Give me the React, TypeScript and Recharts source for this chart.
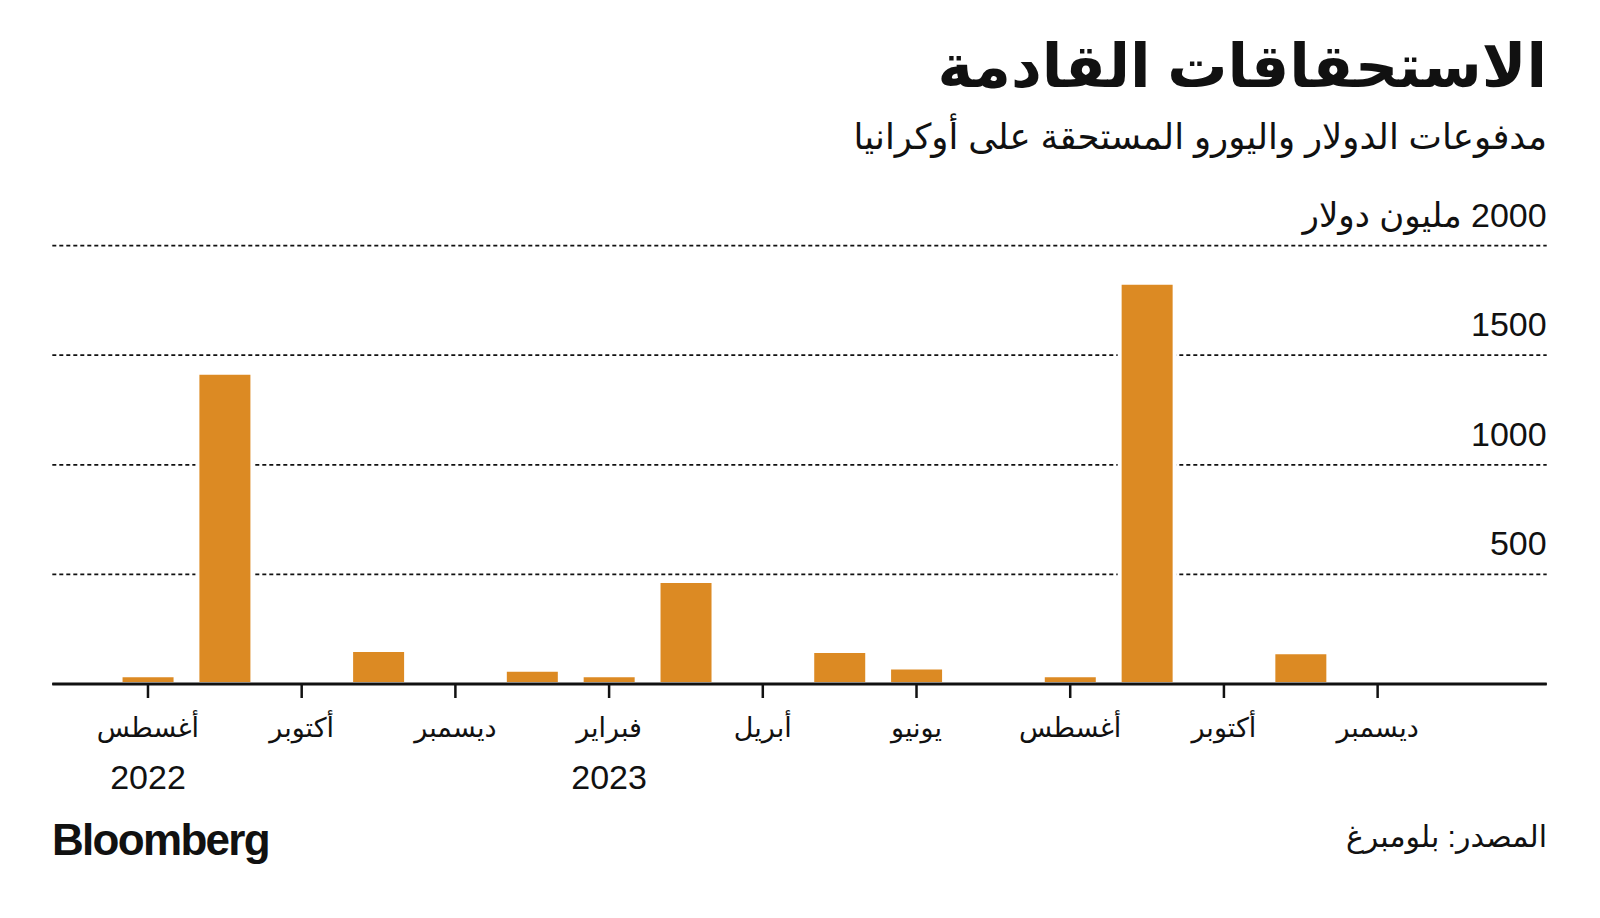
import { BarChart, Bar, XAxis, YAxis, CartesianGrid } from "recharts";

// monthly payments due, million USD (Aug 2022 .. Dec 2023)
const months = [
  "2022-08", "2022-09", "2022-10", "2022-11", "2022-12",
  "2023-01", "2023-02", "2023-03", "2023-04", "2023-05", "2023-06",
  "2023-07", "2023-08", "2023-09", "2023-10", "2023-11", "2023-12",
];
const payments = [40, 1420, 0, 155, 0, 65, 40, 470, 0, 150, 75, 0, 40, 1830, 0, 145, 0];
const monthNames = [
  "أغسطس", "سبتمبر", "أكتوبر", "نوفمبر", "ديسمبر",
  "يناير", "فبراير", "مارس", "أبريل", "مايو", "يونيو",
  "يوليو", "أغسطس", "سبتمبر", "أكتوبر", "نوفمبر", "ديسمبر",
];
const xTicks = [0, 2, 4, 6, 8, 10, 12, 14, 16];
const yearLabels: Record<number, string> = { 0: "2022", 6: "2023" };
const yTicks = [0, 500, 1000, 1500, 2000];
const yUnit = "مليون دولار";
const xDomain = [-1.245, 18.2];

const rows = months.map((m, i) => ({ i, month: m, value: payments[i] }));

const INK = "#111";
const ORANGE = "#DC8A23";
const FONT = "'Liberation Sans', 'DejaVu Sans', sans-serif";

function MonthTick(props: any) {
  const { x, y, payload } = props;
  const i = payload.value;
  return (
    <g>
      <text x={x} y={y + 39} textAnchor="middle" fontSize={27} fill={INK} fontFamily={FONT}>
        {monthNames[i]}
      </text>
      {yearLabels[i] && (
        <text x={x} y={y + 91} textAnchor="middle" fontSize={34} fill={INK} fontFamily={FONT}>
          {yearLabels[i]}
        </text>
      )}
    </g>
  );
}

function ValueTick(props: any) {
  const { x, y, payload } = props;
  if (payload.value === 0) return null;
  const label =
    payload.value === 2000 ? "\u200F" + payload.value + " " + yUnit : String(payload.value);
  return (
    <text x={x} y={y - 19} textAnchor="end" fontSize={34} fill={INK} fontFamily={FONT}>
      {label}
    </text>
  );
}

export default function App() {
  return (
    <div
      style={{
        position: "absolute",
        left: 0,
        top: 0,
        width: 1600,
        height: 918,
        background: "#fff",
        fontFamily: FONT,
        color: INK,
        overflow: "hidden",
      }}
    >
      <div
        dir="rtl"
        style={{ position: "absolute", right: 53, top: 37, fontSize: 60, fontWeight: 700, lineHeight: 1 }}
      >
        الاستحقاقات القادمة
      </div>
      <div dir="rtl" style={{ position: "absolute", right: 53, top: 120, fontSize: 35.5, lineHeight: 1 }}>
        مدفوعات الدولار واليورو المستحقة على أوكرانيا
      </div>

      <div style={{ position: "absolute", left: 0, top: 0 }}>
        <BarChart
          width={1600}
          height={918}
          data={rows}
          margin={{ top: 245.6, right: 52.3, bottom: 233, left: 52.3 }}
        >
          <CartesianGrid vertical={false} stroke={INK} strokeWidth={1.8} strokeDasharray="4 3" />
          <YAxis
            orientation="right"
            width={1}
            domain={[0, 2000]}
            ticks={yTicks}
            axisLine={false}
            tickLine={false}
            tickSize={0}
            tickMargin={0}
            tick={<ValueTick />}
          />
          <Bar dataKey="value" fill={ORANGE} stroke="#fff" strokeWidth={4} barSize={55} isAnimationActive={false} />
          <XAxis
            dataKey="i"
            type="number"
            domain={xDomain}
            allowDataOverflow
            ticks={xTicks}
            height={1}
            axisLine={{ stroke: INK, strokeWidth: 3 }}
            tickLine={{ stroke: INK, strokeWidth: 2.5 }}
            tickSize={14}
            tickMargin={0}
            tick={<MonthTick />}
          />
        </BarChart>
      </div>

      <div
        style={{
          position: "absolute",
          left: 52,
          top: 818,
          fontSize: 44,
          fontWeight: 700,
          letterSpacing: -1.7,
          lineHeight: 1,
        }}
      >
        Bloomberg
      </div>
      <div dir="rtl" style={{ position: "absolute", right: 53, top: 822, fontSize: 30, lineHeight: 1 }}>
        المصدر: بلومبرغ
      </div>
    </div>
  );
}
